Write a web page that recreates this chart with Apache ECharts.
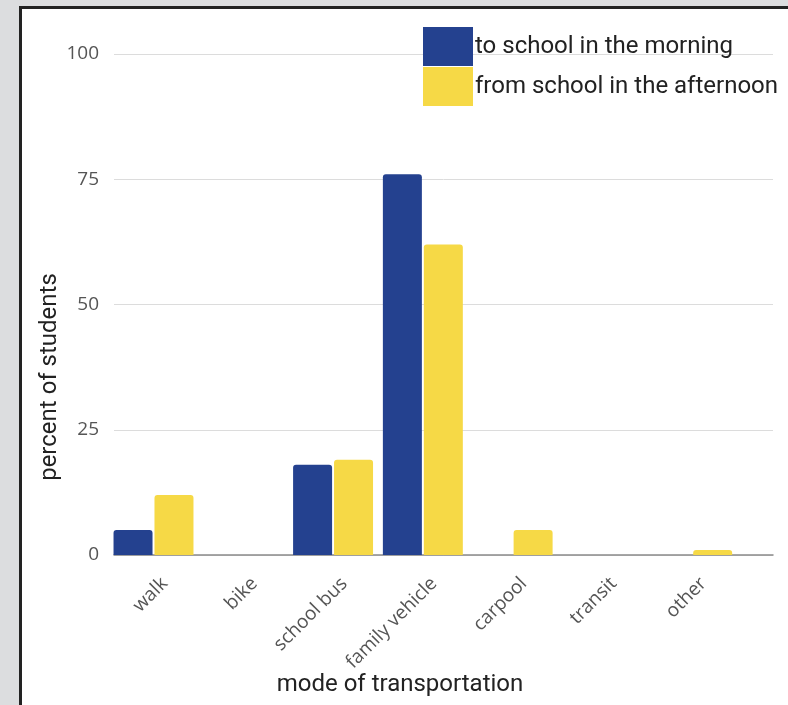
<!DOCTYPE html>
<html>
<head>
<meta charset="utf-8">
<script src="https://cdn.jsdelivr.net/npm/echarts@6/dist/echarts.min.js"></script>
<style>
  html, body { margin: 0; padding: 0; width: 788px; height: 705px; overflow: hidden; background: #dcdddf; }
  #panel { position: absolute; left: 19px; top: 6px; width: 800px; height: 760px; background: #fff; border-left: 3px solid #222; border-top: 3px solid #222; }
  #chart { position: absolute; left: 0; top: 0; width: 788px; height: 705px; }
</style>
</head>
<body>
<div id="panel"></div>
<div id="chart"></div>
<script>
const categories = ['walk', 'bike', 'school bus', 'family vehicle', 'carpool', 'transit', 'other'];
const seriesNames = ['to school in the morning', 'from school in the afternoon'];
const morning = [5, 0, 18, 76, 0, 0, 0];
const afternoon = [12, 0, 19, 62, 5, 0, 1];
const yTicks = [0, 25, 50, 75, 100];
const xTitle = 'mode of transportation';
const yTitle = 'percent of students';

const chart = echarts.init(document.getElementById('chart'), null, { renderer: 'canvas' });
const toPairs = arr => arr.map((v, i) => [i, v]);
const labelShift = 0.05; // rotated labels sit slightly right of the bar group

chart.setOption({
  animation: false,
  backgroundColor: 'transparent',
  grid: { left: 114, top: 54, right: 15, bottom: 150, containLabel: false },
  legend: {
    orient: 'vertical', left: 418, top: 22,
    itemWidth: 50, itemHeight: 39, itemGap: 1, icon: 'rect',
    textStyle: { fontFamily: 'Roboto', fontSize: 24, color: '#222', padding: [0, 0, 0, -3] },
    data: seriesNames
  },
  xAxis: {
    type: 'value', min: -0.44, max: 6.9,
    splitLine: { show: false },
    axisTick: { show: false },
    axisLine: { show: true, lineStyle: { color: '#8a8a8a', width: 1.5 } },
    axisLabel: {
      customValues: categories.map((c, i) => i + labelShift),
      rotate: 45, margin: 19, verticalAlign: 'top',
      fontFamily: 'Open Sans', fontSize: 19, color: '#555',
      formatter: v => categories[Math.round(v)] || ''
    }
  },
  yAxis: {
    type: 'value', min: 0, max: 100, interval: 25,
    axisLine: { show: false }, axisTick: { show: false },
    splitLine: { lineStyle: { color: '#dcdcdc', width: 1 } },
    axisLabel: {
      margin: 15, fontFamily: 'Open Sans', fontSize: 19, color: '#555',
      padding: [3, 0, 0, 0],
      customValues: yTicks
    }
  },
  series: [
    { name: seriesNames[0], type: 'bar', data: toPairs(morning), barWidth: 39, barGap: '5%',
      itemStyle: { color: '#24418f', borderRadius: [3, 3, 0, 0] } },
    { name: seriesNames[1], type: 'bar', data: toPairs(afternoon), barWidth: 39, barGap: '5%',
      itemStyle: { color: '#f6d946', borderRadius: [3, 3, 0, 0] } }
  ],
  graphic: [
    { type: 'text', x: 400, y: 685,
      style: { text: xTitle, fontFamily: 'Roboto', fontSize: 24, fill: '#222', align: 'center', verticalAlign: 'middle' } },
    { type: 'text', x: 50, y: 377, rotation: Math.PI / 2,
      style: { text: yTitle, fontFamily: 'Roboto', fontSize: 24, fill: '#222', align: 'center', verticalAlign: 'middle' } }
  ]
});
</script>
</body>
</html>
